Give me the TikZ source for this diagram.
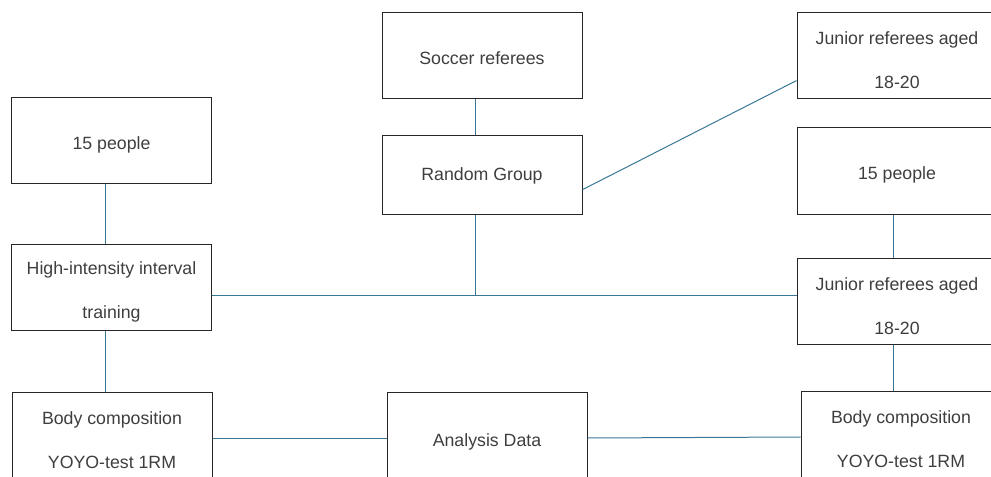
\documentclass[tikz,border=0pt]{standalone}
\usepackage{fontspec}
\setmainfont{Liberation Sans}
\usetikzlibrary{positioning}
\definecolor{linkblue}{RGB}{58,118,150}
\definecolor{txtgray}{RGB}{62,62,62}
\newcommand{\lift}[1][16pt]{\rule{0pt}{#1}}

\begin{document}
\begin{tikzpicture}[x=0.75pt, y=-0.75pt,
  box/.style={draw=black!85, line width=0.75pt, text=txtgray, align=center, inner sep=0pt,
    minimum width=150pt, minimum height=65pt, font=\fontsize{13.3}{33}\selectfont},
  lowbox/.style={box, minimum height=69pt},
  link/.style={draw=linkblue, line width=0.75pt}]
\useasboundingbox (0,0) rectangle (991,477);
\clip (0,0) rectangle (991,477);
\node[box] (soccer) at (482,55.5) {\lift[13.5pt]Soccer referees};
\node[box, minimum height=59.25pt] (random) at (482,175.5) {Random Group};
\node[box] (jtop) at (897,55.5) {\lift Junior referees aged\\18-20};
\node[box] (pleft) at (111.5,140.5) {\lift 15 people};
\node[box] (pright) at (897,171) {\lift 15 people};
\node[box] (hiit) at (111.5,287.5) {\lift High-intensity interval\\training};
\node[box] (jmid) at (897,301.5) {\lift Junior referees aged\\18-20};
\node[lowbox] (bleft) at (112,438) {\lift[13pt]Body composition\\YOYO-test 1RM};
\node[lowbox] (analysis) at (487,438) {\lift Analysis Data};
\node[lowbox] (bright) at (901,437) {\lift[13.5pt]Body composition\\YOYO-test 1RM};
\coordinate (mid) at (475,295);
\coordinate (lcol) at (105,0);
\coordinate (rcol) at (893,0);
\draw[link] (soccer.south -| mid) -- (random.north -| mid);
\draw[link] (random.south -| mid) -- (mid);
\draw[link] (hiit.east |- mid) -- (jmid.west |- mid);
\draw[link] (random.-8.5) -- (jtop.194);
\draw[link] (pleft.south -| lcol) -- (hiit.north -| lcol);
\draw[link] (hiit.south -| lcol) -- (bleft.north -| lcol);
\draw[link] (pright.south -| rcol) -- (jmid.north -| rcol);
\draw[link] (jmid.south -| rcol) -- (bright.north -| rcol);
\draw[link] (bleft) -- (analysis);
\draw[link] (analysis.east) -- (bright.west);
\end{tikzpicture}
\end{document}
